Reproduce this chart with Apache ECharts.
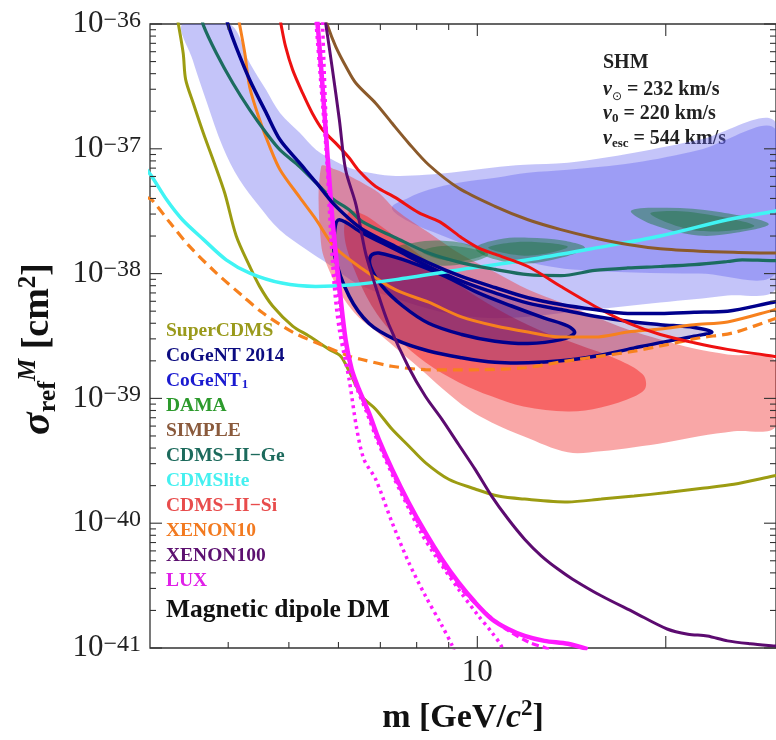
<!DOCTYPE html>
<html><head><meta charset="utf-8">
<script src="https://cdn.jsdelivr.net/npm/echarts@6/dist/echarts.min.js"></script>
<style>html,body{margin:0;padding:0;background:#fff}#c{width:776px;height:740px}</style>
</head><body><div id="c"></div>
<script>
// ---- axis ranges / ticks (sigma in cm^2) ----
const xRange = [3, 30];
const yRange = [1e-41, 1e-36];
const xMajorTicks = [10, 20];
const xMinorTicks = [4, 5, 6, 7, 8, 9];
const yMajorTicks = [1e-41, 1e-40, 1e-39, 1e-38, 1e-37, 1e-36];
const yMinorTicks = [2e-41,3e-41,4e-41,5e-41,6e-41,7e-41,8e-41,9e-41,
  2e-40,3e-40,4e-40,5e-40,6e-40,7e-40,8e-40,9e-40,
  2e-39,3e-39,4e-39,5e-39,6e-39,7e-39,8e-39,9e-39,
  2e-38,3e-38,4e-38,5e-38,6e-38,7e-38,8e-38,9e-38,
  2e-37,3e-37,4e-37,5e-37,6e-37,7e-37,8e-37,9e-37];

// ---- exclusion limits (m [GeV], sigma [cm^2]) ----
const superCDMS = [[3.30,1.3e-36],[3.33,1.0e-36],[3.39,5.8e-37],[3.42,3.6e-37],[3.52,2.3e-37],[3.65,1.34e-37],[3.80,7.7e-38],[3.95,4.4e-38],[4.12,2.0e-38],[4.33,1.14e-38],[4.49,7.9e-39],[4.71,5.5e-39],[5.07,3.8e-39],[5.39,3.15e-39],[5.80,2.47e-39],[6.05,2.18e-39],[6.24,1.65e-39],[6.54,1.04e-39],[6.88,8.2e-40],[7.31,5.65e-40],[7.77,4.16e-40],[8.26,3.06e-40],[9.0,2.25e-40],[9.92,1.88e-40],[10.8,1.65e-40],[11.9,1.56e-40],[13.95,1.48e-40],[15.77,1.56e-40],[17.8,1.65e-40],[20.1,1.76e-40],[22.7,1.9e-40],[25.7,2.05e-40],[29.7,2.39e-40],[30.5,2.45e-40]];
const xenon10Low = [[2.95,4.1e-38],[3.02,3.9e-38],[3.23,2.55e-38],[3.47,1.65e-38],[3.83,1.01e-38],[4.22,6.6e-39],[4.54,4.85e-39],[5.07,3.4e-39],[5.62,2.7e-39],[6.24,2.18e-39],[6.54,2.05e-39],[7.30,1.81e-39],[8.26,1.7e-39],[9.33,1.69e-39],[10.2,1.7e-39],[11.9,1.76e-39],[13.95,2.0e-39],[15.75,2.18e-39],[17.8,2.39e-39],[20.1,2.7e-39],[22.7,3.06e-39],[25.6,3.35e-39],[29.7,4.3e-39],[30.5,4.5e-39]];
const xenon10 = [[4.14,1.2e-36],[4.17,1.0e-36],[4.25,5.9e-37],[4.33,3.1e-37],[4.49,1.71e-37],[4.66,1.04e-37],[4.84,6.8e-38],[5.20,4.1e-38],[5.53,2.7e-38],[5.91,1.64e-38],[6.54,1.1e-38],[7.41,7.4e-39],[8.36,5.9e-39],[9.43,4.5e-39],[10.7,3.8e-39],[12.05,3.4e-39],[13.6,3.1e-39],[15.4,3.1e-39],[17.4,3.4e-39],[19.6,3.6e-39],[22.2,3.9e-39],[25.1,4.1e-39],[29.7,5.1e-39],[30.5,5.3e-39]];
const cogentLine = [[3.96,1.18e-36],[4.0,9.8e-37],[4.12,6.5e-37],[4.33,3.56e-37],[4.60,1.94e-37],[4.84,1.18e-37],[5.20,7.7e-38],[5.53,5.35e-38],[5.87,3.7e-38],[6.24,2.75e-38],[6.57,2.25e-38],[7.41,1.64e-38],[8.36,1.22e-38],[9.43,9.5e-39],[10.7,7.7e-39],[12.05,6.4e-39],[13.6,5.65e-39],[15.4,5.15e-39],[17.4,4.8e-39],[19.6,4.8e-39],[22.2,4.9e-39],[25.1,5.0e-39],[29.7,5.9e-39],[30.5,6.0e-39]];
const simple = [[5.71,1.18e-36],[5.76,9.8e-37],[5.94,6.6e-37],[6.17,4.55e-37],[6.40,3.35e-37],[6.88,2.32e-37],[7.31,1.6e-37],[7.77,1.11e-37],[8.36,7.45e-38],[9.33,4.85e-38],[10.67,3.46e-38],[12.05,2.7e-38],[13.6,2.25e-38],[15.4,1.93e-38],[17.4,1.71e-38],[19.6,1.58e-38],[22.7,1.51e-38],[25.7,1.48e-38],[29.7,1.46e-38],[30.5,1.46e-38]];
const cdmsLite = [[2.95,7.0e-38],[3.02,6.0e-38],[3.19,3.9e-38],[3.38,2.7e-38],[3.65,1.88e-38],[3.97,1.29e-38],[4.33,1.01e-38],[4.87,8.4e-39],[5.52,7.9e-39],[6.24,8.1e-39],[7.40,8.95e-39],[9.44,1.08e-38],[12.05,1.29e-38],[15.4,1.6e-38],[19.6,2.0e-38],[25.1,2.7e-38],[29.7,3.15e-38],[30.5,3.25e-38]];
const cdmsGe = [[3.63,1.18e-36],[3.65,9.8e-37],[3.83,5.83e-37],[4.07,3.35e-37],[4.33,2.05e-37],[4.60,1.34e-37],[4.84,9.8e-38],[5.20,7.22e-38],[5.53,5.32e-38],[5.87,3.98e-38],[6.24,3.25e-38],[6.55,2.61e-38],[7.40,1.94e-38],[8.36,1.46e-38],[9.44,1.22e-38],[10.67,1.08e-38],[12.05,9.8e-39],[13.6,9.64e-39],[15.4,1.06e-38],[17.4,1.11e-38],[19.6,1.14e-38],[22.2,1.18e-38],[25.1,1.25e-38],[26.5,1.29e-38],[29.7,1.27e-38],[30.5,1.27e-38]];
const cdmsSi = [[4.83,1.18e-36],[4.86,9.8e-37],[4.94,6.58e-37],[5.07,4.29e-37],[5.26,2.79e-37],[5.45,1.93e-37],[5.66,1.42e-37],[5.94,1.11e-37],[6.24,8.47e-38],[6.47,6.67e-38],[6.88,4.99e-38],[7.40,4.06e-38],[8.06,3.08e-38],[8.68,2.62e-38],[9.0,2.32e-38],[9.44,1.94e-38],[10.04,1.61e-38],[10.67,1.43e-38],[12.05,1.14e-38],[13.6,7.87e-39],[15.4,5.48e-39],[17.4,4.03e-39],[19.6,3.25e-39],[22.2,2.79e-39],[25.1,2.47e-39],[29.7,2.18e-39],[30.5,2.15e-39]];
const xenon100 = [[5.69,1.18e-36],[5.73,9.8e-37],[5.87,4.29e-37],[6.02,1.71e-37],[6.16,6.79e-38],[6.40,3.56e-38],[6.63,1.46e-38],[6.96,6.58e-39],[7.22,3.91e-39],[7.77,1.77e-39],[8.26,1.04e-39],[8.78,6.79e-40],[9.33,4.29e-40],[9.92,2.70e-40],[10.54,1.65e-40],[11.2,1.08e-40],[11.9,7.45e-41],[12.65,5.48e-41],[13.45,4.29e-41],[14.2,3.56e-41],[15.77,2.62e-41],[17.8,1.93e-41],[20.1,1.42e-41],[21.7,1.29e-41],[23.3,1.25e-41],[25.1,1.14e-41],[27.3,1.08e-41],[29.7,1.04e-41],[30.5,1.03e-41]];
const luxSolid = [[5.54,1.18e-36],[5.56,9.8e-37],[5.66,3.15e-37],[5.76,9.24e-38],[5.87,2.70e-38],[6.02,7.91e-39],[6.16,2.96e-39],[6.30,1.71e-39],[6.47,1.18e-39],[6.71,7.69e-40],[6.96,4.70e-40],[7.31,2.70e-40],[7.77,1.46e-40],[8.26,8.43e-41],[8.78,5.15e-41],[9.33,3.35e-41],[9.92,2.32e-41],[10.54,1.71e-41],[11.2,1.42e-41],[11.9,1.25e-41],[12.8,1.14e-41],[13.95,1.08e-41],[15.0,9.8e-42]];
const luxDashed = [[5.53,1.18e-36],[5.55,9.8e-37],[5.65,3.15e-37],[5.76,9.24e-38],[5.86,2.70e-38],[6.0,7.91e-39],[6.15,2.96e-39],[6.29,1.71e-39],[6.46,1.18e-39],[6.69,7.69e-40],[6.94,4.70e-40],[7.28,2.70e-40],[7.73,1.46e-40],[8.21,8.43e-41],[8.71,5.15e-41],[9.33,3.15e-41],[10.29,1.93e-41],[11.2,1.38e-41],[12.1,1.11e-41],[12.8,1.01e-41],[13.2,9.5e-42]];
const luxDotted = [[5.52,1.18e-36],[5.53,9.8e-37],[5.63,3.15e-37],[5.74,9.24e-38],[5.84,2.70e-38],[5.98,7.91e-39],[6.12,2.96e-39],[6.27,1.71e-39],[6.43,1.18e-39],[6.66,7.69e-40],[6.91,4.70e-40],[7.25,2.70e-40],[7.69,1.46e-40],[8.12,8.47e-41],[8.57,5.48e-41],[9.33,2.96e-41],[10.04,1.81e-41],[10.54,1.34e-41],[10.92,1.04e-41],[11.0,8.9e-42]];
const luxDotted2 = [[5.65,1.18e-36],[5.66,9.8e-37],[5.73,1.71e-37],[5.80,3.46e-38],[5.91,7.91e-39],[6.02,3.56e-39],[6.24,1.42e-39],[6.42,5.65e-40],[6.59,3.25e-40],[6.88,2.25e-40],[7.31,1.01e-40],[7.77,4.85e-41],[8.26,2.62e-41],[8.78,1.51e-41],[9.12,1.04e-41],[9.2,8.9e-42]];

// ---- allowed regions (closed contours) ----
const cogent1Outer = [[3.38,1e-36],[4.02,1e-36],[4.33,4.88e-37],[4.60,2.96e-37],[4.84,1.94e-37],[5.20,1.35e-37],[5.53,9.8e-38],[5.87,8.17e-38],[6.24,7.05e-38],[6.59,6.55e-38],[7.30,6.08e-38],[8.27,6.19e-38],[9.33,6.55e-38],[10.54,7.05e-38],[11.9,7.45e-38],[13.95,7.73e-38],[17.8,9.29e-38],[22.6,1.18e-37],[30,1.61e-37],[30,7.73e-39],[25.1,6.67e-39],[19.6,5.86e-39],[15.4,5.15e-39],[13.45,4.79e-39],[11.6,4.45e-39],[10.04,4.45e-39],[8.68,4.97e-39],[7.49,6.19e-39],[6.47,8.17e-39],[5.80,1.18e-38],[5.33,1.56e-38],[4.83,2.25e-38],[4.49,3.44e-38],[4.17,5.65e-38],[3.92,1.04e-37],[3.70,2.33e-37],[3.51,5.15e-37]];
const cogent1Inner = [[7.30,3.37e-38],[7.77,4.06e-38],[8.36,4.70e-38],[9.33,5.35e-38],[10.7,5.86e-38],[12.05,6.42e-38],[13.95,6.79e-38],[17.8,7.73e-38],[22.6,9.8e-38],[30,1.42e-37],[30,1.02e-38],[22.6,1.0e-38],[17.8,1.02e-38],[14.2,1.08e-38],[12.6,1.18e-38],[11.2,1.34e-38],[9.9,1.61e-38],[8.78,2.02e-38],[7.77,2.61e-38]];
const cdmsSiOuter = [[5.63,7.18e-38],[5.95,6.79e-38],[6.24,6.08e-38],[6.59,5.25e-38],[6.96,4.45e-38],[7.41,3.25e-38],[8.36,2.13e-38],[9.43,1.42e-38],[10.7,1.02e-38],[12.05,7.45e-39],[13.6,5.86e-39],[15.4,4.53e-39],[17.4,3.56e-39],[19.6,2.96e-39],[22.2,2.51e-39],[25.1,2.25e-39],[30,1.98e-39],[30,5.98e-40],[25.7,5.45e-40],[22.6,4.97e-40],[20.1,4.45e-40],[17.8,4.06e-40],[15.75,3.77e-40],[13.95,3.70e-40],[11.85,4.97e-40],[10.54,6.42e-40],[9.68,8.17e-40],[8.83,1.18e-39],[8.06,1.77e-39],[7.39,2.56e-39],[6.93,3.37e-39],[6.47,4.45e-39],[6.13,6.19e-39],[5.84,9.8e-39],[5.63,1.71e-38]];
const cdmsSiInner = [[6.24,3.13e-38],[6.59,2.96e-38],[6.96,2.47e-38],[7.49,1.88e-38],[8.36,1.25e-38],[9.33,8.17e-39],[10.8,5.15e-39],[12.5,3.56e-39],[14.48,2.70e-39],[16.76,2.05e-39],[18.37,1.56e-39],[18.57,1.22e-39],[17.85,1.04e-39],[15.75,8.47e-40],[13.95,7.87e-40],[11.85,8.63e-40],[10.54,1.04e-39],[9.33,1.35e-39],[8.27,1.94e-39],[7.49,2.96e-39],[6.84,5.15e-39],[6.36,1.08e-38],[6.13,2.05e-38]];
const dama1Outer = [[7.41,1.61e-38],[7.92,1.77e-38],[8.68,1.84e-38],[9.68,1.71e-38],[10.41,1.42e-38],[9.68,1.22e-38],[8.68,1.16e-38],[7.83,1.35e-38]];
const dama1Inner = [[8.15,1.50e-38],[9.0,1.67e-38],[10.3,1.45e-38],[9.16,1.25e-38]];
const dama2Outer = [[9.93,1.61e-38],[10.8,1.88e-38],[12.05,1.94e-38],[13.7,1.84e-38],[14.86,1.61e-38],[13.7,1.35e-38],[11.83,1.20e-38],[10.41,1.35e-38]];
const dama2Inner = [[10.41,1.61e-38],[11.83,1.80e-38],[13.95,1.64e-38],[12.05,1.39e-38]];
const dama3Outer = [[17.6,3.19e-38],[20.1,3.37e-38],[24.2,3.13e-38],[29.2,2.51e-38],[26.0,2.13e-38],[22.5,2.02e-38],[19.05,2.47e-38]];
const dama3Inner = [[18.9,3.02e-38],[21.7,3.13e-38],[27.7,2.42e-38],[22.5,2.2e-38]];
const cogent14Outer = [[6.02,2.7e-38],[6.55,2.12e-38],[7.40,1.56e-38],[8.36,1.14e-38],[9.44,8.7e-39],[10.67,7.0e-39],[12.05,5.8e-39],[13.6,5.15e-39],[15.4,4.55e-39],[17.4,4.15e-39],[19.6,3.9e-39],[22.2,3.7e-39],[23.7,3.4e-39],[22.2,3.15e-39],[19.6,2.8e-39],[17.4,2.47e-39],[15.4,2.18e-39],[13.6,2.0e-39],[12.05,1.93e-39],[10.67,1.95e-39],[9.44,2.12e-39],[8.36,2.4e-39],[7.40,2.96e-39],[6.71,4.0e-39],[6.24,6.6e-39],[5.92,1.38e-38],[5.92,2.25e-38]];
const cogent14Inner = [[6.76,1.39e-38],[6.96,1.46e-38],[7.87,1.22e-38],[8.89,9.5e-39],[10.04,7.0e-39],[11.34,5.5e-39],[12.8,4.4e-39],[13.95,3.8e-39],[14.3,3.35e-39],[13.6,2.96e-39],[12.05,2.75e-39],[10.67,2.87e-39],[9.44,3.25e-39],[8.36,4.0e-39],[7.6,5.5e-39],[7.05,7.9e-39],[6.75,1.14e-38]];

const SERIF = '"Liberation Serif","Times New Roman",serif';
// ECharts' log scale rounds tick values to 10 decimals, so sigma is plotted
// in units of 1e-41 cm^2; labels convert back to powers of ten in cm^2.
const UNIT_EXP = -41;
const UNIT = Math.pow(10, UNIT_EXP);
const sv = s => s / UNIT;
const P = pts => pts.map(([m, s]) => [m, sv(s)]);
const yMin = sv(yRange[0]), yMax = sv(yRange[1]);

function region(name, pts, fill, stroke, width) {
  const d = P(pts);
  return {
    type: 'custom', name: name, coordinateSystem: 'cartesian2d', clip: true, silent: true,
    data: d,
    renderItem: function (params, api) {
      if (params.dataIndex !== 0) return null;
      const points = d.map(p => api.coord(p));
      const cs = params.coordSys;
      return {
        type: 'group',
        clipPath: { type: 'rect', shape: { x: cs.x, y: cs.y, width: cs.width, height: cs.height } },
        children: [{
          type: 'polygon', shape: { points: points, smooth: 0.35 },
          style: { fill: fill, stroke: stroke || 'none', lineWidth: width || 0 }
        }]
      };
    }
  };
}
function curve(name, pts, color, width, dash) {
  return {
    type: 'line', name: name, data: P(pts), showSymbol: false, symbol: 'none', smooth: 0.3,
    clip: true, silent: true,
    lineStyle: { color: color, width: width, type: dash || 'solid', cap: 'butt' }
  };
}
// frame ticks on all four sides, placed through the axes' own scales
const frameTicks = {
  type: 'custom', name: 'ticks', silent: true, clip: false, z: 10,
  data: [[xRange[0], yMin]],
  renderItem: function (params, api) {
    if (params.dataIndex !== 0) return null;
    const kids = [];
    const seg = (p, dx, dy) => kids.push({ type: 'line', shape: { x1: p[0], y1: p[1], x2: p[0] + dx, y2: p[1] + dy }, style: { stroke: '#333', lineWidth: 1.1 } });
    xMajorTicks.forEach(v => { seg(api.coord([v, yMin]), 0, -12); seg(api.coord([v, yMax]), 0, 12); });
    xMinorTicks.forEach(v => { seg(api.coord([v, yMin]), 0, -6); seg(api.coord([v, yMax]), 0, 6); });
    yMajorTicks.forEach(v => { seg(api.coord([xRange[0], sv(v)]), 12, 0); seg(api.coord([xRange[1], sv(v)]), -12, 0); });
    yMinorTicks.forEach(v => { seg(api.coord([xRange[0], sv(v)]), 6, 0); seg(api.coord([xRange[1], sv(v)]), -6, 0); });
    return { type: 'group', children: kids };
  }
};

const series = [
  region('CoGeNT1', cogent1Outer, 'rgba(100,100,240,0.38)'),
  region('CoGeNT1', cogent1Inner, 'rgba(100,100,240,0.40)'),
  region('CDMS−II−Si', cdmsSiOuter, 'rgba(242,60,60,0.45)'),
  region('CDMS−II−Si', cdmsSiInner, 'rgba(245,50,50,0.55)'),
  region('DAMA', dama1Outer, 'rgba(20,120,50,0.45)'),
  region('DAMA', dama2Outer, 'rgba(20,120,50,0.45)'),
  region('DAMA', dama3Outer, 'rgba(20,120,50,0.45)'),
  region('DAMA', dama1Inner, 'rgba(20,110,50,0.4)'),
  region('DAMA', dama2Inner, 'rgba(20,110,50,0.4)'),
  region('DAMA', dama3Inner, 'rgba(20,110,50,0.4)'),
  region('CoGeNT 2014', cogent14Outer, 'rgba(40,0,130,0.22)', '#00008c', 3.5),
  region('CoGeNT 2014', cogent14Inner, 'rgba(50,0,120,0.3)', '#00008c', 3.5),
  curve('SuperCDMS', superCDMS, '#9c9c12', 3),
  curve('XENON10', xenon10Low, '#f7811e', 3.2, [10, 6]),
  curve('XENON10', xenon10, '#f7811e', 3),
  curve('CDMSlite', cdmsLite, '#40f4f4', 3.5),
  curve('CDMS−II−Ge', cdmsGe, '#1c6c60', 3.2),
  curve('SIMPLE', simple, '#8b5a2b', 3),
  curve('CDMS−II−Si', cdmsSi, '#ee1111', 3),
  curve('XENON100', xenon100, '#5c0b70', 3),
  curve('LUX', luxDotted2, '#ff1aff', 3.5, [3, 4]),
  curve('LUX', luxDotted, '#ff1aff', 3.5, [3, 4]),
  curve('LUX', luxDashed, '#ff1aff', 3.2, [7, 4]),
  curve('LUX', luxSolid, '#ff1aff', 4.5),
  curve('CoGeNT 2014', cogentLine, '#00008c', 3.5),
  frameTicks
];

const legendItems = [
  ['SuperCDMS', '#9a9a1c'], ['CoGeNT 2014', '#0c0c80'], ['CoGeNT1', '#1a1ad0'], ['DAMA', '#2c9a2c'],
  ['SIMPLE', '#8a5a3c'], ['CDMS−II−Ge', '#1c6a5c'], ['CDMSlite', '#44f0f0'], ['CDMS−II−Si', '#e84c4c'],
  ['XENON10', '#f27a20'], ['XENON100', '#5c1070'], ['LUX', '#e020e8']
];

const chart = echarts.init(document.getElementById('c'), null, { renderer: 'canvas' });
chart.setOption({
  animation: false,
  backgroundColor: '#fff',
  grid: { left: 150, top: 24, width: 629, height: 625, containLabel: false, show: true, borderColor: '#333', borderWidth: 1.3, backgroundColor: 'transparent' },
  xAxis: {
    type: 'log', min: xRange[0], max: xRange[1],
    axisLine: { show: false }, axisTick: { show: false }, splitLine: { show: false },
    axisLabel: { showMinLabel: false, showMaxLabel: false, fontFamily: SERIF, fontSize: 31, color: '#222', margin: 9, formatter: v => String(v) },
    name: '{a|m [GeV/}{c|c}{s|2}{a|]}', nameLocation: 'middle', nameGap: 50,
    nameTextStyle: { rich: {
      a: { fontFamily: SERIF, fontWeight: 'bold', fontSize: 34, color: '#111', lineHeight: 40 },
      c: { fontFamily: SERIF, fontWeight: 'bold', fontStyle: 'italic', fontSize: 34, color: '#111', lineHeight: 40 },
      s: { fontFamily: SERIF, fontWeight: 'bold', fontSize: 23, color: '#111', lineHeight: 23, verticalAlign: 'top' }
    }}
  },
  yAxis: {
    type: 'log', min: yMin, max: yMax,
    axisLine: { show: false }, axisTick: { show: false }, splitLine: { show: false },
    axisLabel: {
      margin: 9,
      formatter: v => '{b|10}{s|−' + (-(Math.round(Math.log10(v)) + UNIT_EXP)) + '}',
      rich: {
        b: { fontFamily: SERIF, fontSize: 31, color: '#222', lineHeight: 31, verticalAlign: 'bottom' },
        s: { fontFamily: SERIF, fontSize: 24, color: '#222', lineHeight: 24, verticalAlign: 'top', padding: [0, 0, 15, 0] }
      }
    },
    name: '{g|σ}{r|ref}{m|M}{a| [cm}{s|2}{a|]}', nameLocation: 'middle', nameRotate: 90, nameGap: 84,
    nameTextStyle: { padding: [0, 26, 0, 0], rich: {
      g: { fontFamily: SERIF, fontWeight: 'bold', fontStyle: 'italic', fontSize: 42, color: '#111', lineHeight: 46 },
      r: { fontFamily: SERIF, fontWeight: 'bold', fontSize: 26, color: '#111', lineHeight: 26, verticalAlign: 'bottom' },
      m: { fontFamily: SERIF, fontWeight: 'bold', fontStyle: 'italic', fontSize: 25, color: '#111', lineHeight: 25, verticalAlign: 'top' },
      a: { fontFamily: SERIF, fontWeight: 'bold', fontSize: 38, color: '#111', lineHeight: 46 },
      s: { fontFamily: SERIF, fontWeight: 'bold', fontSize: 25, color: '#111', lineHeight: 25, verticalAlign: 'top' }
    }}
  },
  legend: {
    orient: 'vertical', left: 156, top: 316, icon: 'rect', itemWidth: 0, itemHeight: 0, itemGap: 5,
    selectedMode: false,
    data: legendItems.map(([n, c]) => ({ name: n, textStyle: { color: c } })),
    formatter: n => n === 'CoGeNT1' ? '{a|CoGeNT}{s|1}' : n,
    textStyle: { fontFamily: SERIF, fontWeight: 'bold', fontSize: 19.5, lineHeight: 20,
      rich: { a: { fontFamily: SERIF, fontWeight: 'bold', fontSize: 19.5, lineHeight: 20, color: '#1a1ad0' },
              s: { fontFamily: SERIF, fontWeight: 'bold', fontSize: 13, lineHeight: 13, color: '#1a1ad0', verticalAlign: 'bottom', padding: [0,0,0,1] } } }
  },
  graphic: [
    { type: 'text', x: 166, y: 610, silent: true, style: { text: 'Magnetic dipole DM', font: 'bold 25.5px ' + SERIF, fill: '#111', verticalAlign: 'middle' } },
    { type: 'text', x: 603, y: 63, silent: true, style: { text: 'SHM', font: 'bold 20px ' + SERIF, fill: '#222', verticalAlign: 'middle' } },
    { type: 'text', x: 603, y: 90, silent: true, style: { text: '{v|v}{b|⊙}{t| = 232 km/s}', verticalAlign: 'middle',
      rich: { v: { font: 'italic bold 20px ' + SERIF, fill: '#222', lineHeight: 26 }, b: { font: '12px "DejaVu Sans"', fill: '#222', lineHeight: 12, verticalAlign: 'bottom' }, t: { font: 'bold 20px ' + SERIF, fill: '#222', lineHeight: 26 } } } },
    { type: 'text', x: 603, y: 114, silent: true, style: { text: '{v|v}{b|0}{t| = 220 km/s}', verticalAlign: 'middle',
      rich: { v: { font: 'italic bold 20px ' + SERIF, fill: '#222', lineHeight: 22 }, b: { font: 'bold 13px ' + SERIF, fill: '#222', lineHeight: 13, verticalAlign: 'bottom' }, t: { font: 'bold 20px ' + SERIF, fill: '#222', lineHeight: 22 } } } },
    { type: 'text', x: 603, y: 139, silent: true, style: { text: '{v|v}{b|esc}{t| = 544 km/s}', verticalAlign: 'middle',
      rich: { v: { font: 'italic bold 20px ' + SERIF, fill: '#222', lineHeight: 22 }, b: { font: 'bold 13px ' + SERIF, fill: '#222', lineHeight: 13, verticalAlign: 'bottom' }, t: { font: 'bold 20px ' + SERIF, fill: '#222', lineHeight: 22 } } } }
  ],
  series: series
});
</script>
</body></html>
